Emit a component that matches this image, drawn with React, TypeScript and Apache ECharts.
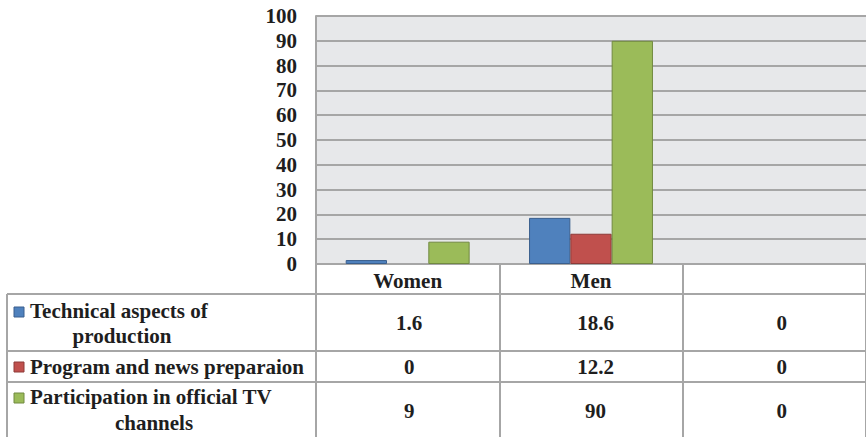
import React, { useEffect, useRef } from "react";
import * as echarts from "echarts";

// Categories and series values
const categories = ["Women", "Men", ""];
const technicalAspects = [1.6, 18.6, 0];
const programPreparation = [0, 12.2, 0];
const tvParticipation = [9, 90, 0];

const seriesNames = [
  "Technical aspects of production",
  "Program and news preparaion",
  "Participation in official TV channels",
];
// Wrapped lines of each series name as shown in the data table
const seriesNameLines = [
  ["Technical aspects of", "production"],
  ["Program and news preparaion"],
  ["Participation in official TV", "channels"],
];
const seriesValues = [technicalAspects, programPreparation, tvParticipation];

const yMin = 0;
const yMax = 100;
const yInterval = 10;

const colors = ["#4f81bd", "#c0504d", "#9bbb59"];
const borderColors = ["#3a5f8e", "#8e3a38", "#718a40"];

// Layout
const W = 866;
const H = 437;
const GRID_LEFT = 316;
const GRID_TOP = 16;
const GRID_W = 559;
const GRID_H = 248;
const TABLE_LEFT = 7;
const HEADER_BOTTOM = 294;
const ROW_BOUNDS = [294, 351, 382, 440];
const LINE = "#a6a6a6";
const TEXT = "#1e1e1e";
const FONT = "Liberation Serif";
const FS = 21;

// Pin the serif face on every SVG text node the renderer produced
function pinSerif(root: HTMLElement) {
  root.querySelectorAll("text").forEach((t) => {
    const el = t as SVGTextElement;
    el.setAttribute("font-family", FONT);
    el.setAttribute("font-weight", "bold");
    el.style.fontFamily = `"${FONT}", serif`;
    el.style.fontWeight = "bold";
  });
}

export default function App() {
  const ref = useRef<HTMLDivElement>(null);

  useEffect(() => {
    const host = ref.current;
    if (!host) return;
    const chart = echarts.init(host, null, { renderer: "svg" });

    const colW = GRID_W / categories.length;
    const graphics: any[] = [];

    // Horizontal table lines
    ROW_BOUNDS.slice(0, 3).forEach((y) => {
      graphics.push({
        type: "line",
        shape: { x1: TABLE_LEFT, y1: y, x2: GRID_LEFT + GRID_W, y2: y },
        style: { stroke: LINE, lineWidth: 2 },
      });
    });
    // Left border of the table
    graphics.push({
      type: "line",
      shape: { x1: TABLE_LEFT, y1: HEADER_BOTTOM, x2: TABLE_LEFT, y2: H + 5 },
      style: { stroke: LINE, lineWidth: 2 },
    });

    // Row labels with legend keys
    const keyLayout = [
      { keyY: 312, lines: [{ x: 30, y: 311, align: "left" }, { x: 122, y: 336, align: "center" }] },
      { keyY: 367, lines: [{ x: 30, y: 367, align: "left" }] },
      { keyY: 398, lines: [{ x: 30, y: 397, align: "left" }, { x: 154, y: 423, align: "center" }] },
    ];
    seriesNameLines.forEach((lines, i) => {
      const k = keyLayout[i];
      graphics.push({
        type: "rect",
        shape: { x: 14, y: k.keyY - 5, width: 10, height: 10 },
        style: { fill: colors[i], stroke: borderColors[i], lineWidth: 1 },
      });
      lines.forEach((t, j) => {
        const p = k.lines[j];
        graphics.push({
          type: "text",
          x: p.x,
          y: p.y,
          style: {
            text: t,
            fill: TEXT,
            fontFamily: FONT,
            fontWeight: "bold",
            fontSize: FS,
            textAlign: p.align,
            textVerticalAlign: "middle",
          },
        });
      });
    });

    // Value cells
    seriesValues.forEach((vals, i) => {
      const cy = (ROW_BOUNDS[i] + ROW_BOUNDS[i + 1]) / 2;
      vals.forEach((v, c) => {
        graphics.push({
          type: "text",
          x: GRID_LEFT + colW * (c + 0.5),
          y: cy,
          style: {
            text: String(v),
            fill: TEXT,
            fontFamily: FONT,
            fontWeight: "bold",
            fontSize: FS,
            textAlign: "center",
            textVerticalAlign: "middle",
          },
        });
      });
    });

    chart.setOption({
      animation: false,
      backgroundColor: "#ffffff",
      textStyle: { fontFamily: FONT },
      grid: {
        left: GRID_LEFT,
        top: GRID_TOP,
        width: GRID_W,
        height: GRID_H,
        show: true,
        backgroundColor: "#e7e8ea",
        borderWidth: 0,
        containLabel: false,
      },
      xAxis: {
        type: "category",
        data: categories,
        axisLine: { show: true, lineStyle: { color: LINE, width: 2 } },
        axisTick: {
          show: true,
          alignWithLabel: false,
          length: H - (GRID_TOP + GRID_H) + 10,
          lineStyle: { color: LINE, width: 2 },
        },
        axisLabel: {
          margin: 6,
          color: TEXT,
          fontFamily: FONT,
          fontWeight: "bold",
          fontSize: FS,
        },
        splitLine: { show: false },
      },
      yAxis: {
        type: "value",
        min: yMin,
        max: yMax,
        interval: yInterval,
        axisLine: { show: true, lineStyle: { color: LINE, width: 2 } },
        axisTick: { show: false },
        axisLabel: {
          margin: 19,
          color: TEXT,
          fontFamily: FONT,
          fontWeight: "bold",
          fontSize: FS,
        },
        splitLine: { show: true, lineStyle: { color: LINE, width: 2 } },
      },
      series: seriesValues.map((vals, i) => ({
        name: seriesNames[i],
        type: "bar",
        // zero-height bars get no outline so they leave no mark
        data: vals.map((v) => (v === 0 ? { value: v, itemStyle: { borderWidth: 0 } } : v)),
        barGap: "0%",
        barCategoryGap: "32.4%",
        itemStyle: { color: colors[i], borderColor: borderColors[i], borderWidth: 1 },
      })),
      graphic: graphics,
    });

    pinSerif(host);
    const onFinished = () => pinSerif(host);
    chart.on("finished", onFinished);
    const raf = requestAnimationFrame(() => pinSerif(host));
    const timer = window.setTimeout(() => pinSerif(host), 50);

    return () => {
      cancelAnimationFrame(raf);
      window.clearTimeout(timer);
      chart.off("finished", onFinished);
      chart.dispose();
    };
  }, []);

  return (
    <div
      ref={ref}
      style={{ position: "fixed", left: 0, top: 0, width: W, height: H, background: "#fff" }}
    />
  );
}
